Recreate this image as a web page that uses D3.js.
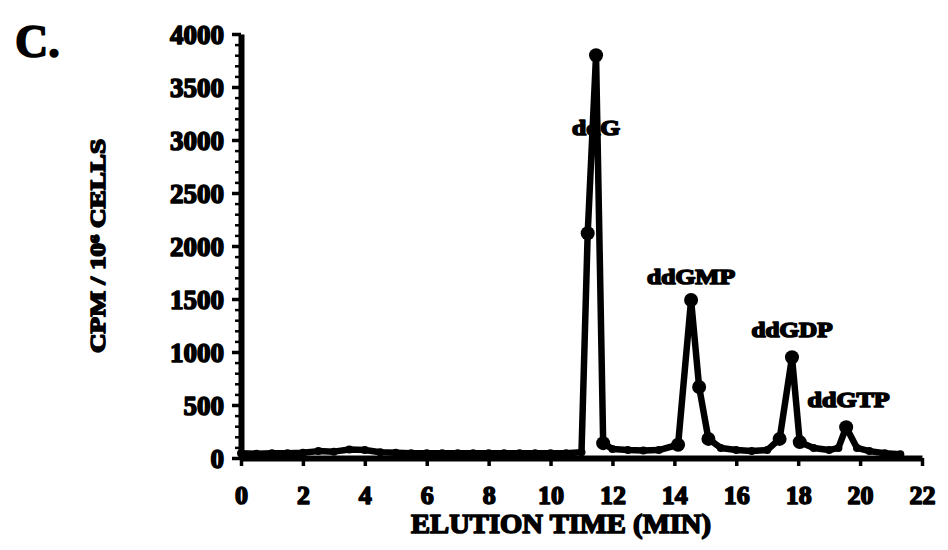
<!DOCTYPE html>
<html>
<head>
<meta charset="utf-8">
<script src="https://cdn.jsdelivr.net/npm/d3@7"></script>
<style>
  html, body { margin: 0; padding: 0; background: #fff; }
  svg text { font-family: "Liberation Serif", "Times New Roman", serif; font-weight: bold; fill: #000; }
  .bloat { stroke: #000; stroke-width: 1.6px; stroke-linejoin: round; }
</style>
</head>
<body>
<svg id="chart" width="948" height="550"></svg>
<script>
// Elution profile (minutes, CPM per 10^6 cells)
const elutionTimes = [0, 0.5, 1, 1.5, 2, 2.5, 3, 3.5, 4, 4.5, 5, 5.5, 6, 6.5, 7, 7.5, 8, 8.5, 9, 9.5, 10, 10.5,
  11, 11.2, 11.47, 11.7, 12, 12.5, 13, 13.5, 14.12, 14.54, 14.8, 15.1, 15.5, 16, 16.5, 17, 17.4, 17.8, 18.05,
  18.5, 19, 19.3, 19.55, 19.9, 20.3, 20.8, 21.3];
const cpmValues = [45, 40, 45, 45, 50, 65, 60, 80, 75, 55, 50, 45, 45, 45, 45, 45, 45, 45, 45, 45, 45, 45,
  55, 2120, 3800, 140, 85, 75, 70, 75, 125, 1490, 670, 180, 95, 75, 65, 75, 180, 950, 150,
  95, 75, 95, 290, 95, 65, 45, 35];

// Peak annotations
const peakNames = ['ddG', 'ddGMP', 'ddGDP', 'ddGTP'];
const peakTimes = [11.47, 14.54, 17.8, 19.63];
const peakLabelValues = [3050, 1640, 1140, 480];
const peakLabelWidths = [48, 88, 81, 82];

// Axis ticks
const xTicks = [0, 2, 4, 6, 8, 10, 12, 14, 16, 18, 20, 22];
const yTicks = [0, 500, 1000, 1500, 2000, 2500, 3000, 3500, 4000];
const yMinorTicks = d3.range(0, 4001, 100);

const svg = d3.select('#chart');

const x = d3.scaleLinear().domain([0, 22]).range([241, 922]);
const y = d3.scaleLinear().domain([0, 4000]).range([458, 34]);

// Panel letter
svg.append('text')
  .attr('class', 'bloat')
  .attr('x', 15)
  .attr('y', 57)
  .style('font-size', '46px')
  .text('C.');

// Minor ticks on the y axis give it the scalloped look
svg.append('g')
  .attr('transform', `translate(${ x(0) },0)`)
  .call(d3.axisLeft(y).tickValues(yMinorTicks).tickSize(6).tickFormat(''))
  .call(g => g.select('.domain').remove())
  .call(g => g.selectAll('line').attr('stroke-width', 2.5));

// Y axis
const yAxisEl = svg.append('g')
  .attr('transform', `translate(${ x(0) },0)`)
  .call(d3.axisLeft(y).tickValues(yTicks).tickFormat(d3.format('d'))
    .tickSize(9).tickSizeOuter(0).tickPadding(8));

yAxisEl.select('.domain').attr('stroke-width', 6);
yAxisEl.selectAll('.tick line').attr('stroke-width', 3.5);
yAxisEl.selectAll('.tick text')
  .attr('class', 'bloat')
  .attr('dy', '0.36em')
  .style('font-size', '27px');

// X axis
const xAxisEl = svg.append('g')
  .attr('transform', `translate(0,${ y(0) })`)
  .call(d3.axisBottom(x).tickValues(xTicks).tickFormat(d3.format('d'))
    .tickSize(8).tickSizeOuter(0));

xAxisEl.select('.domain').attr('stroke-width', 6);
xAxisEl.selectAll('.tick line').attr('stroke-width', 3.5);
xAxisEl.selectAll('.tick text')
  .attr('class', 'bloat')
  .attr('y', 46)
  .attr('dy', 0)
  .style('font-size', '26px');

// Axis titles
svg.append('text')
  .attr('class', 'bloat')
  .attr('x', 561)
  .attr('y', 533)
  .attr('text-anchor', 'middle')
  .attr('textLength', 300)
  .attr('lengthAdjust', 'spacingAndGlyphs')
  .style('font-size', '27px')
  .text('ELUTION TIME (MIN)');

svg.append('text')
  .attr('class', 'bloat')
  .attr('transform', 'translate(105,246) rotate(-90)')
  .attr('text-anchor', 'middle')
  .attr('textLength', 214)
  .attr('lengthAdjust', 'spacingAndGlyphs')
  .style('font-size', '21px')
  .text('CPM / 10⁶ CELLS');

// The trace
const points = elutionTimes.map((t, i) => ({ t: t, v: cpmValues[i] }));

const line = d3.line()
  .x(d => x(d.t))
  .y(d => y(d.v));

svg.append('path')
  .datum(points)
  .attr('fill', 'none')
  .attr('stroke', '#000')
  .attr('stroke-width', 6.5)
  .attr('stroke-linejoin', 'round')
  .attr('d', line);

svg.append('g')
  .selectAll('circle')
  .data(points)
  .enter()
  .append('circle')
    .attr('cx', d => x(d.t))
    .attr('cy', d => y(d.v))
    .attr('r', d => d.v > 100 ? 7 : 4)
    .attr('fill', '#000');

// Peak labels
svg.append('g')
  .selectAll('text')
  .data(peakNames)
  .enter()
  .append('text')
    .attr('class', 'bloat')
    .attr('x', (d, i) => x(peakTimes[i]))
    .attr('y', (d, i) => y(peakLabelValues[i]))
    .attr('text-anchor', 'middle')
    .attr('textLength', (d, i) => peakLabelWidths[i])
    .attr('lengthAdjust', 'spacingAndGlyphs')
    .style('font-size', '21px')
    .text(d => d);
</script>
</body>
</html>
